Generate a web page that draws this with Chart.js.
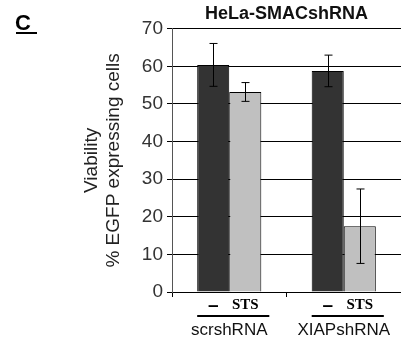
<html lang="en">
<head>
    <meta charset="UTF-8">
    <title>HeLa-SMACshRNA</title>
    <script src="https://cdn.jsdelivr.net/npm/chart.js@4.4.0/dist/chart.umd.min.js"></script>
    <style>
        body { margin: 0; background: #fff; }
    </style>
</head>
<body>
    <canvas id="chart" width="401" height="347"></canvas>

    <script>
        // values
        const groups = ['scrshRNA', 'XIAPshRNA'];
        const treatments = ['–', 'STS'];
        const control = [60.4, 58.8];
        const controlErr = [5.7, 4.2];
        const sts = [53.2, 17.5];
        const stsErr = [2.5, 9.9];
        const yTicks = [0, 10, 20, 30, 40, 50, 60, 70];

        const errs = [controlErr, stsErr];

        // error bars, drawn from the data through the y scale
        const errorBars = {
            id: 'errorBars',
            afterDatasetsDraw(chart) {
                const ctx = chart.ctx;
                const y = chart.scales.y;
                ctx.save();
                ctx.strokeStyle = '#000';
                ctx.lineWidth = 1;
                chart.data.datasets.forEach((ds, i) => {
                    chart.getDatasetMeta(i).data.forEach((bar, j) => {
                        const v = ds.data[j], e = errs[i][j];
                        const x = Math.round(bar.x) + 0.5;
                        const top = y.getPixelForValue(v + e);
                        const bot = y.getPixelForValue(v - e);
                        ctx.beginPath();
                        ctx.moveTo(x, top); ctx.lineTo(x, bot);
                        ctx.moveTo(x - 4, top); ctx.lineTo(x + 4, top);
                        ctx.moveTo(x - 4, bot); ctx.lineTo(x + 4, bot);
                        ctx.stroke();
                    });
                });
                ctx.restore();
            }
        };

        // treatment labels, bracket line and group name under each category
        const groupLabels = {
            id: 'groupLabels',
            afterDraw(chart) {
                const ctx = chart.ctx;
                const base = chart.chartArea.bottom;
                const m0 = chart.getDatasetMeta(0).data;
                const m1 = chart.getDatasetMeta(1).data;
                ctx.save();
                ctx.fillStyle = '#000';
                ctx.textAlign = 'center';
                ctx.textBaseline = 'alphabetic';
                groups.forEach((g, j) => {
                    const a = m0[j], b = m1[j];
                    ctx.font = 'bold 19px "Liberation Sans", Arial';
                    ctx.fillText(treatments[0], a.x, base + 19);
                    ctx.font = 'bold 15px "Liberation Serif", "Times New Roman"';
                    ctx.fillText(treatments[1], b.x, base + 17);
                    ctx.fillRect(a.x - a.width / 2, base + 23, (b.x + b.width / 2) - (a.x - a.width / 2) + 8, 2);
                    ctx.font = '17px "Liberation Sans", Arial';
                    ctx.fillStyle = '#111';
                    ctx.fillText(g, (a.x + b.x) / 2, base + 43);
                    ctx.fillStyle = '#000';
                });
                // panel letter
                ctx.font = 'bold 22px "Liberation Sans", Arial';
                ctx.textAlign = 'left';
                ctx.fillText('C', 15, 30);
                ctx.fillRect(16, 32, 21, 2);
                ctx.restore();
            }
        };

        const ctx = document.getElementById('chart').getContext('2d');
        new Chart(ctx, {
            type: 'bar',
            data: {
                labels: groups,
                datasets: [{
                    label: treatments[0],
                    data: control,
                    backgroundColor: '#333333',
                    borderColor: '#000',
                    borderWidth: 1
                }, {
                    label: treatments[1],
                    data: sts,
                    backgroundColor: '#c0c0c0',
                    borderColor: '#000',
                    borderWidth: 1
                }]
            },
            options: {
                responsive: false,
                animation: false,
                layout: { padding: { left: 80, right: 0, top: 0, bottom: 0 } },
                categoryPercentage: 0.56,
                barPercentage: 1.0,
                plugins: {
                    legend: { display: false },
                    tooltip: { enabled: false },
                    title: {
                        display: true,
                        fullSize: false,
                        text: 'HeLa-SMACshRNA',
                        color: '#111',
                        font: { family: '"Liberation Sans", Arial', size: 18, weight: 'bold', lineHeight: 1.1 },
                        padding: { top: 4, bottom: 5 }
                    }
                },
                scales: {
                    x: {
                        grid: { display: true, drawOnChartArea: false, offset: true, color: '#000', tickLength: 5 },
                        border: { color: '#000' },
                        ticks: { display: false },
                        afterFit(s) { s.height = 55; }
                    },
                    y: {
                        min: 0,
                        max: 70,
                        afterBuildTicks(s) { s.ticks = yTicks.map(v => ({ value: v })); },
                        grid: { color: '#000', tickLength: 5 },
                        border: { color: '#555' },
                        ticks: {
                            color: '#333',
                            padding: 4,
                            font: { family: '"Liberation Sans", Arial', size: 19 }
                        },
                        title: {
                            display: true,
                            text: ['Viability', '% EGFP expressing cells'],
                            color: '#222',
                            padding: 0,
                            font: { family: '"Liberation Sans", Arial', size: 19, lineHeight: 1.2 }
                        },
                        afterFit(s) { s.width = 92; }
                    }
                }
            },
            plugins: [errorBars, groupLabels]
        });
    </script>
</body>
</html>
